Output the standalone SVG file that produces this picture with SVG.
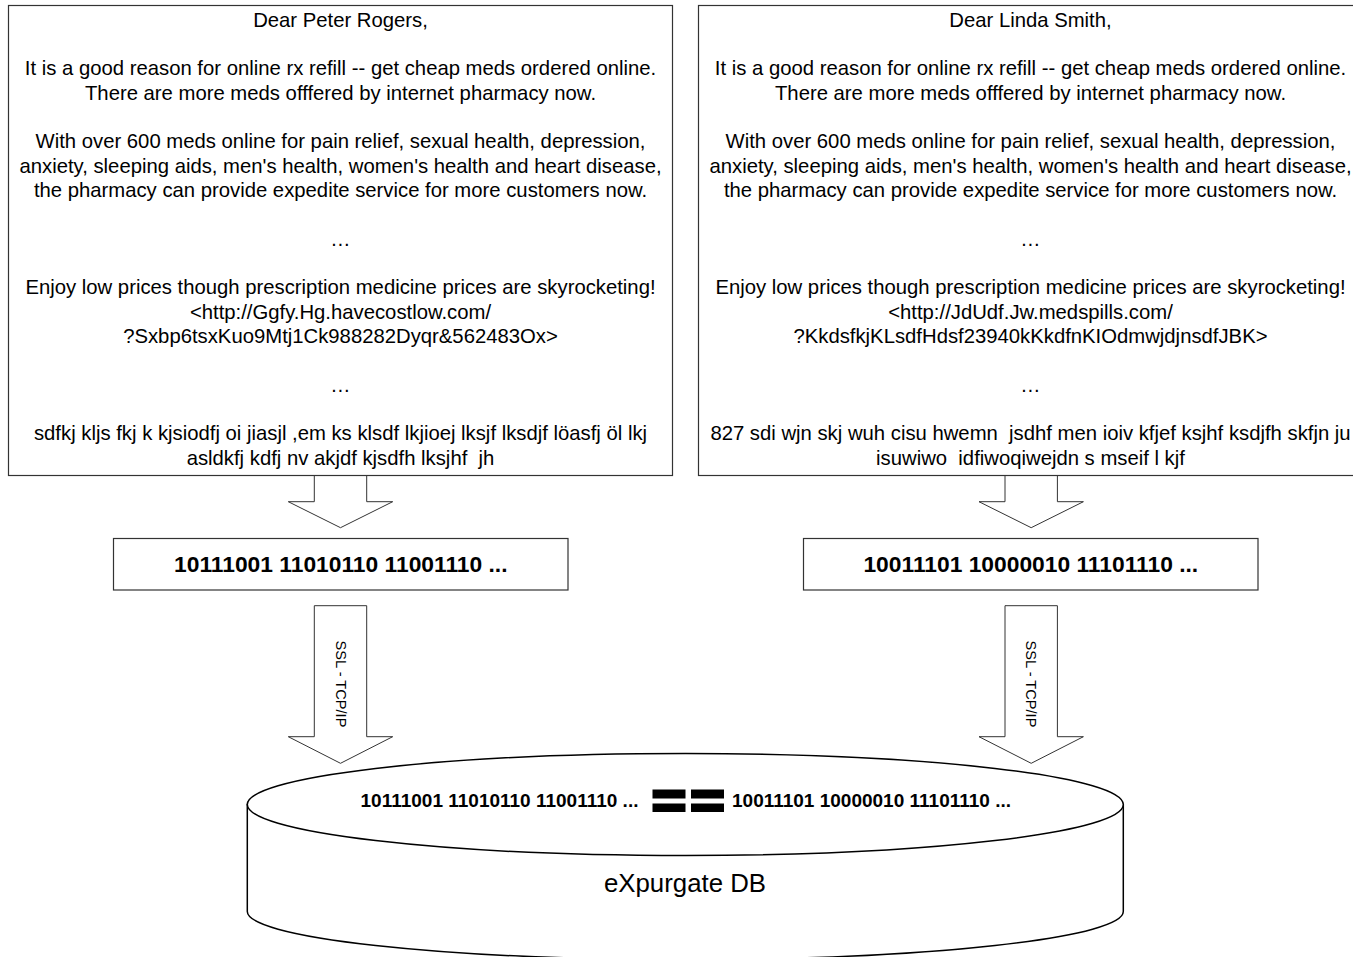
<svg xmlns="http://www.w3.org/2000/svg" width="1353" height="957" viewBox="0 0 1353 957">
<style>
  .bg { fill: #ffffff; }
  .box { fill: #ffffff; stroke: #333333; stroke-width: 1.2; }
  .arrow { fill: #ffffff; stroke: #333333; stroke-width: 1; }
  .cyl { fill: #ffffff; stroke: #000000; stroke-width: 1.5; }
  .body { font-family: "Liberation Sans", Arial, sans-serif; font-size: 20.3px; fill: #000000; text-anchor: middle; white-space: pre; }
  .bin { font-family: "Liberation Sans", Arial, sans-serif; font-size: 22.8px; font-weight: bold; fill: #000000; text-anchor: middle; }
  .bin2 { font-family: "Liberation Sans", Arial, sans-serif; font-size: 19px; font-weight: bold; fill: #000000; text-anchor: middle; }
  .lbl { font-family: "Liberation Sans", Arial, sans-serif; font-size: 14.6px; fill: #000000; text-anchor: middle; }
  .db { font-family: "Liberation Sans", Arial, sans-serif; font-size: 25.8px; fill: #000000; text-anchor: middle; }
  .eq { fill: #000000; }
</style>
<rect class="bg" x="0" y="0" width="1353" height="957"/>

<g id="connectors">
  <path class="arrow" d="M314.3,475.5 V501.7 H288.3 L340.5,527.7 L392.7,501.7 H366.7 V475.5"/>
  <path class="arrow" d="M1005,475.5 V501.7 H979 L1031.2,527.7 L1083.4,501.7 H1057.4 V475.5"/>
  <path class="arrow" d="M314.3,605.7 H366.7 V736.7 H392.7 L340.5,763.3 L288.3,736.7 H314.3 Z"/>
  <text class="lbl" transform="translate(335.6,684) rotate(90)">SSL - TCP/IP</text>
  <path class="arrow" d="M1005,605.7 H1057.4 V736.7 H1083.4 L1031.2,763.3 L979,736.7 H1005 Z"/>
  <text class="lbl" transform="translate(1026.3,684) rotate(90)">SSL - TCP/IP</text>
</g>

<g id="email-left">
  <rect class="box" x="8.5" y="5.5" width="664" height="470"/>
  <text class="body" x="340.5" y="26.5">Dear Peter Rogers,</text>
  <text class="body" x="340.5" y="75.2">It is a good reason for online rx refill -- get cheap meds ordered online.</text>
  <text class="body" x="340.5" y="99.55">There are more meds offfered by internet pharmacy now.</text>
  <text class="body" x="340.5" y="148.25">With over 600 meds online for pain relief, sexual health, depression,</text>
  <text class="body" x="340.5" y="172.6">anxiety, sleeping aids, men's health, women's health and heart disease,</text>
  <text class="body" x="340.5" y="196.95">the pharmacy can provide expedite service for more customers now.</text>
  <text class="body" x="340.5" y="245.65">…</text>
  <text class="body" x="340.5" y="294.35">Enjoy low prices though prescription medicine prices are skyrocketing!</text>
  <text class="body" x="340.5" y="318.7">&lt;http://Ggfy.Hg.havecostlow.com/</text>
  <text class="body" x="340.5" y="343.05">?Sxbp6tsxKuo9Mtj1Ck988282Dyqr&amp;562483Ox&gt;</text>
  <text class="body" x="340.5" y="391.75">…</text>
  <text class="body" x="340.5" y="440.45">sdfkj kljs fkj k kjsiodfj oi jiasjl ,em ks klsdf lkjioej lksjf lksdjf löasfj öl lkj</text>
  <text class="body" x="340.5" y="464.8">asldkfj kdfj nv akjdf kjsdfh lksjhf  jh</text>
</g>

<g id="email-right">
  <rect class="box" x="698.5" y="5.5" width="664" height="470"/>
  <text class="body" x="1030.5" y="26.5">Dear Linda Smith,</text>
  <text class="body" x="1030.5" y="75.2">It is a good reason for online rx refill -- get cheap meds ordered online.</text>
  <text class="body" x="1030.5" y="99.55">There are more meds offfered by internet pharmacy now.</text>
  <text class="body" x="1030.5" y="148.25">With over 600 meds online for pain relief, sexual health, depression,</text>
  <text class="body" x="1030.5" y="172.6">anxiety, sleeping aids, men's health, women's health and heart disease,</text>
  <text class="body" x="1030.5" y="196.95">the pharmacy can provide expedite service for more customers now.</text>
  <text class="body" x="1030.5" y="245.65">…</text>
  <text class="body" x="1030.5" y="294.35">Enjoy low prices though prescription medicine prices are skyrocketing!</text>
  <text class="body" x="1030.5" y="318.7">&lt;http://JdUdf.Jw.medspills.com/</text>
  <text class="body" x="1030.5" y="343.05">?KkdsfkjKLsdfHdsf23940kKkdfnKIOdmwjdjnsdfJBK&gt;</text>
  <text class="body" x="1030.5" y="391.75">…</text>
  <text class="body" x="1030.5" y="440.45">827 sdi wjn skj wuh cisu hwemn  jsdhf men ioiv kfjef ksjhf ksdjfh skfjn ju</text>
  <text class="body" x="1030.5" y="464.8">isuwiwo  idfiwoqiwejdn s mseif l kjf</text>
</g>

<g id="hash-left">
  <rect class="box" x="113.5" y="538.5" width="454.5" height="51.5"/>
  <text class="bin" x="340.8" y="572">10111001 11010110 11001110 ...</text>
</g>

<g id="hash-right">
  <rect class="box" x="803.5" y="538.5" width="454.5" height="51.5"/>
  <text class="bin" x="1030.8" y="572">10011101 10000010 11101110 ...</text>
</g>

<g id="expurgate-db">
  <path class="cyl" d="M247.3,804.5 V911.5 A438,48 0 0 0 1123.3,911.5 V804.5 Z"/>
  <ellipse class="cyl" cx="685.3" cy="804.5" rx="438" ry="51"/>
  <text class="bin2" x="499.5" y="806.5">10111001 11010110 11001110 ...</text>
  <rect class="eq" x="652.5" y="789.5" width="33" height="9"/>
  <rect class="eq" x="652.5" y="803.5" width="33" height="8.5"/>
  <rect class="eq" x="691" y="789.5" width="33" height="9"/>
  <rect class="eq" x="691" y="803.5" width="33" height="8.5"/>
  <text class="bin2" x="871.5" y="806.5">10011101 10000010 11101110 ...</text>
  <text class="db" x="685" y="892">eXpurgate DB</text>
</g>
</svg>
